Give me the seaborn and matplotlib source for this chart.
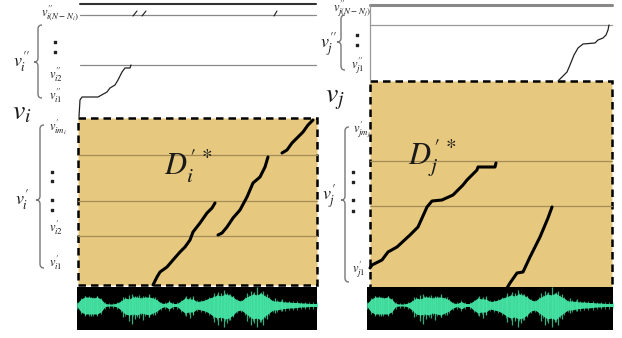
import numpy as np
import matplotlib.pyplot as plt
import seaborn as sns
from matplotlib.patches import Rectangle, PathPatch
from matplotlib.path import Path

sns.set_theme(style="white")
plt.rcParams['mathtext.fontset'] = 'stix'
plt.rcParams['font.family'] = ['DejaVu Serif']

# warping paths (pixel coords)
top_i_x = [79, 80, 82, 98, 107, 110, 115, 118, 122, 125, 130, 131]
top_i_y = [117, 100, 97, 97, 92, 88, 85, 80, 72, 68, 68, 65]
top_j_x = [558, 562, 567, 570, 574, 578, 583, 595, 598, 603, 606, 608, 609]
top_j_y = [81, 77, 72, 65, 55, 48, 44, 43, 40, 38, 35, 30, 25]

di1_x = [153, 157, 160, 167, 173, 180, 185, 190, 193, 200, 207, 212, 215]
di1_y = [285, 277, 272, 267, 260, 252, 247, 240, 232, 223, 213, 208, 203]
di2_x = [218, 222, 227, 233, 240, 247, 253, 260, 265, 268]
di2_y = [235, 233, 227, 218, 210, 197, 183, 177, 167, 157]
di3_x = [282, 287, 292, 298, 303, 308, 313]
di3_y = [153, 150, 143, 137, 132, 125, 120]

dj1_x = [370, 372, 382, 388, 397, 410, 418, 427, 432, 442, 453, 463, 467, 477, 478, 495, 496]
dj1_y = [268, 265, 260, 252, 247, 235, 227, 207, 201, 200, 195, 185, 180, 170, 167, 167, 163]
dj2_x = [507, 510, 517, 523, 530, 540, 548, 552]
dj2_y = [288, 283, 273, 272, 257, 237, 218, 207]

# waveform envelope (px above / below centre), 0..240 px across the panel
wave_up = [1.5, 6, 8, 8, 7, 8, 6, 1.5, 1, 1, 2, 4, 7, 6, 8, 8, 7, 8, 8, 7, 5,
           2, 1.5, 3.5, 1.5, 1.5, 4, 7, 6, 6, 3.5, 4, 5, 7, 8, 10, 9, 11, 10, 8, 5, 4,
           7, 9, 11, 10, 12, 9, 7, 4, 4, 3.5, 3, 3, 2.5, 2.5, 2, 2, 1.5, 1.5, 1.5]
wave_down = [1.5, 7, 9, 9, 9, 9, 7, 1.5, 1, 1, 2, 5, 9, 10, 9, 10, 8, 9, 10, 8, 6,
             3, 1.5, 4, 1.5, 1.5, 5, 8, 7, 7, 4, 5, 6, 8, 11, 13, 12, 14, 13, 10, 6, 5,
             8, 11, 14, 13, 15, 11, 8, 5, 5, 4, 3.5, 3, 3, 2.5, 2, 2, 1.5, 1.5, 1.5]
spike_off = [8, 14, 20, 46, 52, 55, 58, 62, 66, 72, 78, 109, 113, 116, 137, 141, 144,
             147, 150, 153, 156, 170, 174, 177, 180, 183, 186, 190, 198, 205]
spike_up = [9, 8, 9, 8, 10, 11, 9, 10, 9, 11, 8, 9, 8, 9, 12, 13, 12, 15, 12, 11, 9,
            12, 14, 13, 18, 12, 14, 11, 7, 6]
spike_down = [10, 11, 10, 12, 16, 19, 14, 13, 15, 12, 10, 11, 13, 10, 17, 20, 16, 22, 18, 15, 11,
              16, 20, 18, 22, 17, 20, 14, 8, 6]

TAN = "#E6C97E"
GRID = "#A48B5A"
WAVE = "#45E6A5"

fig = plt.figure(figsize=(6.22, 3.38), dpi=100)
ax = fig.add_axes([0, 0, 1, 1])
ax.set_xlim(0, 622)
ax.set_ylim(338, 0)
ax.axis('off')


def brace(x, y0, y1, ym, w=4):
    verts = [(x + w, y0), (x, y0), (x, y0 + w), (x, ym - w), (x, ym), (x - w, ym),
             (x, ym), (x, ym + w), (x, y1 - w), (x, y1), (x + w, y1)]
    codes = [Path.MOVETO, Path.CURVE3, Path.CURVE3, Path.LINETO, Path.CURVE3, Path.CURVE3,
             Path.CURVE3, Path.CURVE3, Path.LINETO, Path.CURVE3, Path.CURVE3]
    ax.add_patch(PathPatch(Path(verts, codes), fill=False, ec="#777777", lw=1.0))


def wave(x0, x1):
    k = (x1 - x0) / 240
    xs = np.linspace(x0, x1, len(wave_up))
    up = 305 - np.array(wave_up)
    dn = 305 + np.array(wave_down)
    ax.add_patch(Rectangle((x0, 287), x1 - x0, 43, fc="black", ec="none", zorder=2))
    ax.fill_between(xs, up, dn, color=WAVE, lw=0, alpha=0.95, zorder=3)
    ax.vlines(xs, up - 1.5, dn + 2, color=WAVE, lw=0.8, alpha=0.6, zorder=3)
    sx = x0 + np.array(spike_off) * k
    ax.vlines(sx, 305 - np.array(spike_up), 305 + np.array(spike_down),
              color=WAVE, lw=0.9, alpha=0.75, zorder=3)


# left panel
ax.add_patch(Rectangle((78, 118), 239, 167, fc=TAN, ec="black", ls=(0, (3, 2)), lw=1.8, zorder=1))
for y in [155, 201, 236]:
    ax.plot([78, 317], [y, y], color=GRID, lw=0.9, zorder=1.5)
ax.plot([80, 316], [4, 4], color="#333333", lw=1.5)
ax.plot([80, 316], [15, 15], color="#888888", lw=0.9)
ax.plot([80, 316], [65, 65], color="#888888", lw=0.9)
ax.plot([133, 137], [16, 11], color="k", lw=0.8)
ax.plot([142, 146], [16, 11], color="k", lw=0.8)
ax.plot([274, 277], [16, 11], color="k", lw=0.8)
sns.lineplot(x=top_i_x, y=top_i_y, sort=False, estimator=None, color="#222222", lw=0.9, ax=ax)
for px, py in [(di1_x, di1_y), (di2_x, di2_y), (di3_x, di3_y)]:
    sns.lineplot(x=px, y=py, sort=False, estimator=None, color="black", lw=2.2, ax=ax, zorder=4)
wave(77, 317)

# right panel
ax.add_patch(Rectangle((370, 81), 242, 207, fc=TAN, ec="black", ls=(0, (3, 2)), lw=1.8, zorder=1))
for y in [161, 206]:
    ax.plot([370, 612], [y, y], color=GRID, lw=0.9, zorder=1.5)
ax.plot([370, 612], [5, 5], color="#888888", lw=2.2)
ax.plot([370, 612], [25, 25], color="#999999", lw=0.9)
ax.plot([370, 370], [5, 81], color="#999999", lw=0.9)
sns.lineplot(x=top_j_x, y=top_j_y, sort=False, estimator=None, color="#222222", lw=0.9, ax=ax)
for px, py in [(dj1_x, dj1_y), (dj2_x, dj2_y)]:
    sns.lineplot(x=px, y=py, sort=False, estimator=None, color="black", lw=2.2, ax=ax, zorder=4)
wave(367, 613)

# braces and labels
brace(38, 25, 98, 62)
brace(40, 125, 268, 200)
brace(341, 15, 70, 42)
brace(345, 127, 282, 200)

kw = dict(ha="center", va="center", color="#1a1a1a")
ax.text(60, 13, r"$v_{i(N-N_i)}^{\prime\prime}$", fontsize=9, **kw)
ax.text(22, 62, r"$v_{i}^{\prime\prime}$", fontsize=13, **kw)
ax.text(56, 75, r"$v_{i2}^{\prime\prime}$", fontsize=9, **kw)
ax.text(56, 96, r"$v_{i1}^{\prime\prime}$", fontsize=9, **kw)
ax.text(22, 112, r"$v_i$", fontsize=20, **kw)
ax.text(58, 127, r"$v_{im_i}^{\prime}$", fontsize=9, **kw)
ax.text(22, 200, r"$v_{i}^{\prime}$", fontsize=13, **kw)
ax.text(56, 228, r"$v_{i2}^{\prime}$", fontsize=9, **kw)
ax.text(56, 263, r"$v_{i1}^{\prime}$", fontsize=9, **kw)
ax.text(188, 166, r"$D_i^{\prime\,*}$", fontsize=22, **kw)

ax.text(352, 9, r"$v_{j(N-N_j)}^{\prime\prime}$", fontsize=9, **kw)
ax.text(329, 45, r"$v_{j}^{\prime\prime}$", fontsize=13, **kw)
ax.text(358, 66, r"$v_{j1}^{\prime\prime}$", fontsize=9, **kw)
ax.text(335, 98, r"$v_j$", fontsize=20, **kw)
ax.text(362, 130, r"$v_{jm_j}^{\prime}$", fontsize=9, **kw)
ax.text(329, 197, r"$v_{j}^{\prime}$", fontsize=13, **kw)
ax.text(359, 270, r"$v_{j1}^{\prime}$", fontsize=9, **kw)
ax.text(432, 158, r"$D_j^{\prime\,*}$", fontsize=22, **kw)

dot_x = [55, 55, 52, 52, 52, 52, 357, 357, 353, 353, 353, 353]
dot_y = [42, 52, 172, 181, 200, 210, 35, 45, 172, 182, 200, 211]
ax.scatter(dot_x, dot_y, s=2.5, marker="s", color="#222222", zorder=5)

fig.savefig("out.png", dpi=100)
